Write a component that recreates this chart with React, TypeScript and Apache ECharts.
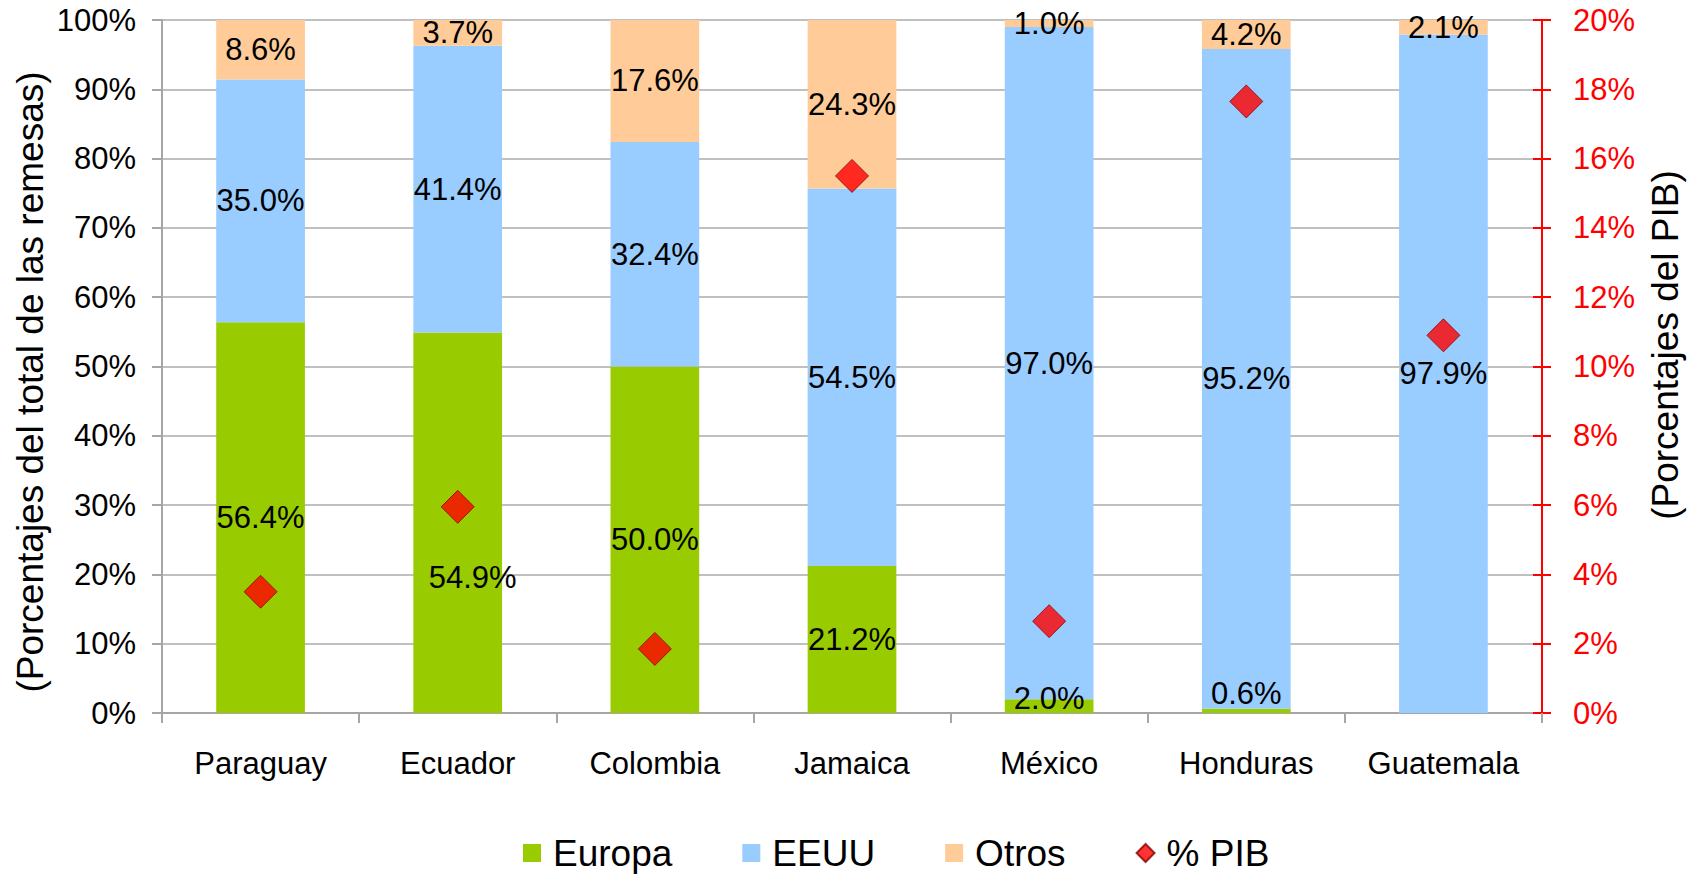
import React, { useEffect, useRef } from "react";
import * as echarts from "echarts";

const categories = ["Paraguay", "Ecuador", "Colombia", "Jamaica", "México", "Honduras", "Guatemala"];
const europa = [56.4, 54.9, 50.0, 21.2, 2.0, 0.6, 0];
const eeuu = [35.0, 41.4, 32.4, 54.5, 97.0, 95.2, 97.9];
const otros = [8.6, 3.7, 17.6, 24.3, 1.0, 4.2, 2.1];
const pib = [3.5, 5.95, 1.85, 15.5, 2.65, 17.65, 10.9];
const leftTicks = [0, 10, 20, 30, 40, 50, 60, 70, 80, 90, 100];
const rightTicks = [0, 2, 4, 6, 8, 10, 12, 14, 16, 18, 20];

const FONT = "'Liberation Sans', Arial, sans-serif";

// label nudges for a few overlapping labels (by category index)
const europaLabelOffsets: Record<number, [number, number]> = {
  1: [15, 55],
  4: [0, -8],
  5: [0, -17],
};

export default function App() {
  const ref = useRef<HTMLDivElement>(null);
  useEffect(() => {
    document.body.style.margin = "0";
    const chart = echarts.init(ref.current!, null, { renderer: "svg" });
    const labelBase = {
      show: true,
      position: "inside" as const,
      color: "#000",
      fontFamily: FONT,
      fontSize: 31,
      formatter: (p: any) => (p.value ? Number(p.value).toFixed(1) + "%" : ""),
    };
    const europaData = europa.map((v, i) =>
      europaLabelOffsets[i] ? { value: v, label: { offset: europaLabelOffsets[i] } } : v
    );
    const option: any = {
      animation: false,
      backgroundColor: "#fff",
      textStyle: { fontFamily: FONT },
      grid: { left: 162, right: 154, top: 20, bottom: 162, containLabel: false },
      legend: {
        left: 518,
        top: 828,
        itemWidth: 18,
        itemHeight: 18,
        itemGap: 70,
        textStyle: { fontSize: 37, lineHeight: 40, color: "#000", fontFamily: FONT, padding: [0, 0, 0, 7] },
        data: [
          { name: "Europa", icon: "rect" },
          { name: "EEUU", icon: "rect" },
          { name: "Otros", icon: "rect" },
          { name: "% PIB", icon: "diamond" },
        ],
      },
      xAxis: {
        type: "category",
        data: categories,
        axisLine: { lineStyle: { color: "#a6a6a6", width: 2 } },
        axisTick: { show: true, length: 10, alignWithLabel: false, lineStyle: { color: "#a6a6a6", width: 2 } },
        axisLabel: { color: "#000", fontSize: 31, fontFamily: FONT, margin: 35 },
      },
      yAxis: [
        {
          type: "value",
          min: leftTicks[0],
          max: leftTicks[leftTicks.length - 1],
          interval: 10,
          position: "left",
          axisLine: { show: true, lineStyle: { color: "#a6a6a6", width: 2 } },
          axisTick: { show: true, length: 10, lineStyle: { color: "#a6a6a6", width: 2 } },
          axisLabel: { color: "#000", fontSize: 31, fontFamily: FONT, margin: 26, formatter: "{value}%" },
          splitLine: { show: true, lineStyle: { color: "#c0c0c0", width: 2 } },
        },
        {
          type: "value",
          min: rightTicks[0],
          max: rightTicks[rightTicks.length - 1],
          interval: 2,
          position: "right",
          axisLine: { show: true, lineStyle: { color: "#ff0000", width: 2 } },
          axisTick: { show: true, length: 9, lineStyle: { color: "#ff0000", width: 2 } },
          axisLabel: { color: "#ff0000", fontSize: 31, fontFamily: FONT, margin: 31, formatter: "{value}%" },
          splitLine: { show: false },
        },
        {
          type: "value",
          min: rightTicks[0],
          max: rightTicks[rightTicks.length - 1],
          interval: 2,
          position: "right",
          axisLine: { show: true, lineStyle: { color: "#ff0000", width: 2 } },
          axisTick: { show: true, inside: true, length: 9, lineStyle: { color: "#ff0000", width: 2 } },
          axisLabel: { show: false },
          splitLine: { show: false },
        },
      ],
      graphic: [
        {
          type: "text",
          x: 30,
          y: 382,
          rotation: Math.PI / 2,
          style: {
            text: "(Porcentajes del total de las remesas)",
            fontSize: 37,
            fontFamily: FONT,
            fill: "#000",
            align: "center",
            verticalAlign: "middle",
          },
        },
        {
          type: "text",
          x: 1665,
          y: 345,
          rotation: Math.PI / 2,
          style: {
            text: "(Porcentajes del PIB)",
            fontSize: 37,
            fontFamily: FONT,
            fill: "#000",
            align: "center",
            verticalAlign: "middle",
          },
        },
      ],
      series: [
        {
          name: "Europa",
          type: "bar",
          stack: "total",
          barWidth: "45%",
          itemStyle: { color: "#99cc00" },
          label: labelBase,
          data: europaData,
        },
        {
          name: "EEUU",
          type: "bar",
          stack: "total",
          barWidth: "45%",
          itemStyle: { color: "#99ccff" },
          label: labelBase,
          data: eeuu,
        },
        {
          name: "Otros",
          type: "bar",
          stack: "total",
          barWidth: "45%",
          itemStyle: { color: "#ffcc99" },
          label: labelBase,
          data: otros,
        },
        {
          name: "% PIB",
          type: "scatter",
          yAxisIndex: 1,
          symbol: "diamond",
          symbolSize: 33,
          z: 5,
          itemStyle: { color: "#ff0000", borderColor: "#8b0000", borderWidth: 1 },
          data: pib,
        },
      ],
    };
    chart.setOption(option);
    return () => chart.dispose();
  }, []);
  return <div ref={ref} style={{ width: 1696, height: 875 }} />;
}
